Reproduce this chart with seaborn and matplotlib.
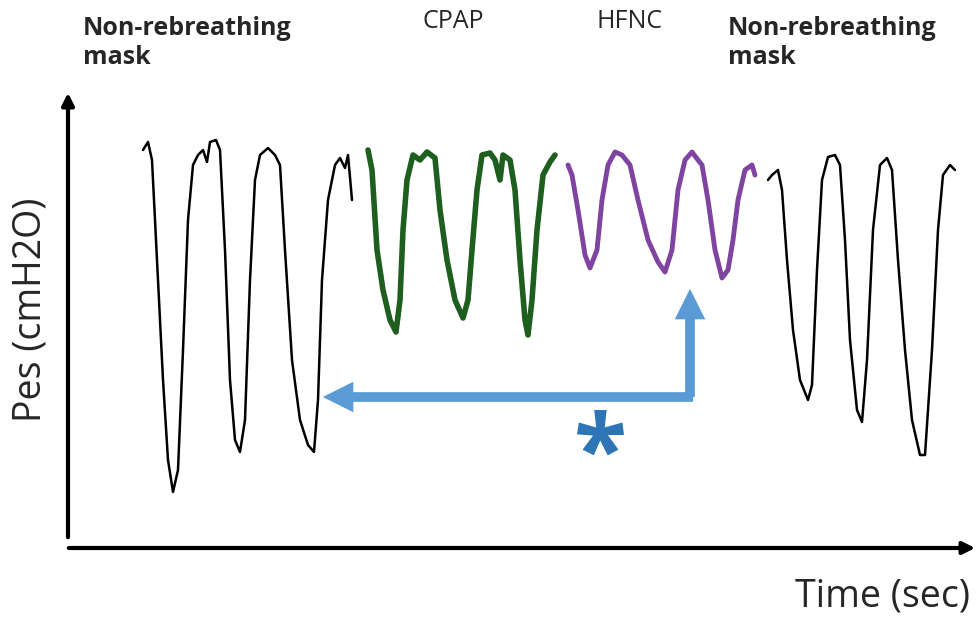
import matplotlib
matplotlib.use("Agg")
from matplotlib import pyplot as plt
import seaborn as sns
import pandas as pd

# waveform traces in pixel coords (x right, y down)
nrb1_x = [143,148,152,157,163,168,173,178,183,188,193,198,203,207,210,216,220,225,230,235,240,245,250,255,260,268,275,280,285,292,300,308,314,318,322,328,335,340,345,348,352]
nrb1_y = [150,142,160,260,380,460,492,470,350,220,165,155,150,162,142,140,150,250,380,440,452,420,280,180,155,148,155,165,250,360,420,445,452,400,280,200,165,158,168,155,200]
cpap_x = [368,372,377,383,390,396,400,403,407,413,420,427,435,440,447,455,463,468,472,477,482,490,495,500,503,510,515,520,525,528,532,537,543,550,555]
cpap_y = [150,170,250,290,320,332,300,230,180,155,160,152,158,210,260,300,318,300,250,190,155,153,160,180,155,160,190,260,320,335,300,230,175,162,155]
hfnc_x = [568,572,578,585,590,597,602,608,615,622,630,638,648,658,665,672,678,685,692,698,702,708,715,722,728,733,738,745,752,755]
hfnc_y = [165,175,210,255,268,250,200,165,152,155,165,200,240,262,272,250,190,160,152,160,165,200,250,278,270,240,200,170,165,175]
nrb2_x = [768,772,778,782,787,793,800,808,812,817,822,828,835,840,845,850,857,862,867,873,880,887,892,898,905,912,920,925,932,938,943,950,955]
nrb2_y = [180,175,170,190,260,330,380,400,385,270,180,157,155,165,240,340,410,422,360,230,165,158,170,260,350,420,455,455,350,230,175,165,170]

fig = plt.figure(figsize=(9.8, 6.2), dpi=100)
sns.set_style("white")
plt.rcParams['font.family'] = ['Open Sans', 'DejaVu Sans']
ax = fig.add_axes([0, 0, 1, 1])
ax.set_xlim(0, 980)
ax.set_ylim(620, 0)

segs = [(nrb1_x, nrb1_y, 'black', 1.8), (cpap_x, cpap_y, '#1E5E1E', 4),
        (hfnc_x, hfnc_y, '#7E44A0', 3.5), (nrb2_x, nrb2_y, 'black', 1.8)]
for x, y, c, lw in segs:
    df = pd.DataFrame({'x': x, 'y': y})
    sns.lineplot(data=df, x='x', y='y', sort=False, color=c, lw=lw, ax=ax)
ax.axis('off')

# axes arrows
ax.annotate('', xy=(68, 90), xytext=(68, 540),
            arrowprops=dict(arrowstyle='-|>', lw=3, color='black', mutation_scale=18))
ax.annotate('', xy=(978, 548), xytext=(66, 548),
            arrowprops=dict(arrowstyle='-|>', lw=3, color='black', mutation_scale=18))

# comparison arrows
blue = '#5B9BD5'
ax.plot([690, 690], [397, 315], color=blue, lw=7, solid_capstyle='butt')
ax.annotate('', xy=(690, 286), xytext=(690, 330),
            arrowprops=dict(arrowstyle='-|>', lw=0, color=blue, mutation_scale=55))
ax.plot([693, 350], [397, 397], color=blue, lw=7, solid_capstyle='butt')
ax.annotate('', xy=(320, 397), xytext=(370, 397),
            arrowprops=dict(arrowstyle='-|>', lw=0, color=blue, mutation_scale=55))
ax.text(600, 458, '*', fontsize=70, color='#2E75B6', ha='center', va='center', fontweight='bold')

ax.text(83, 43, 'Non-rebreathing\nmask', fontsize=18, fontweight='bold', va='center', ha='left', linespacing=1.25)
ax.text(728, 43, 'Non-rebreathing\nmask', fontsize=18, fontweight='bold', va='center', ha='left', linespacing=1.25)
ax.text(453, 22, 'CPAP', fontsize=18, ha='center', va='center')
ax.text(630, 22, 'HFNC', fontsize=18, ha='center', va='center')
ax.text(30, 310, 'Pes (cmH2O)', fontsize=27, rotation=90, ha='center', va='center')
ax.text(970, 597, 'Time (sec)', fontsize=27, ha='right', va='center')

fig.savefig('out.png', dpi=100)
